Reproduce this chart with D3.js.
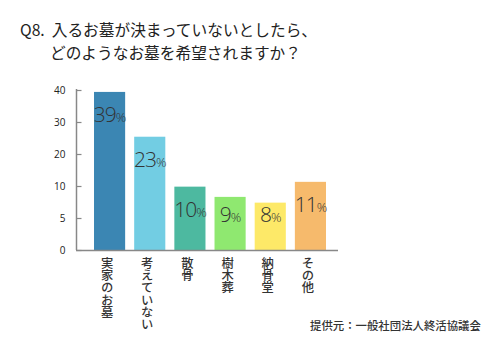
<!DOCTYPE html>
<html><head><meta charset="utf-8">
<script src="https://cdn.jsdelivr.net/npm/d3@7"></script>
<style>
body{margin:0;background:#fff;}
svg{display:block;}
</style></head>
<body>
<svg id="c" width="500" height="343"></svg>
<script>
const categories = ["実家のお墓","考えていない","散骨","樹木葬","納骨堂","その他"];
const barValues = [39.4, 25.4, 9.9, 8.3, 7.4, 11.3];
const labelValues = ["39","23","10","9","8","11"];
const colors = ["#3b86b3","#72cde3","#4db9a0","#8fe870","#fde968","#f6ba6c"];
const tickValues = [0,5,10,20,30,40];
const titleLines = ["Q8.\u00a0\u00a0入るお墓が決まっていないとしたら、","どのようなお墓を希望されますか？"];
const source = "提供元：一般社団法人終活協議会";

const svg = d3.select("#c");
const jp = "'Noto Sans CJK JP','Noto Sans',sans-serif";

const y = d3.scaleLinear().domain(tickValues).range([250,218,186,154,122,90]);
const x = d3.scaleBand().domain(categories).range([90,330]).paddingInner(0.225).paddingOuter(0.1);

// title
svg.append("text").attr("x",20).attr("y",36).attr("font-family",jp).attr("font-size",15.7).attr("fill","#222").text(titleLines[0]);
svg.append("text").attr("x",50).attr("y",59).attr("font-family",jp).attr("font-size",15.7).attr("fill","#222").text(titleLines[1]);

// bars
svg.selectAll("rect.bar").data(categories).enter().append("rect")
  .attr("class","bar")
  .attr("x",d=>x(d)).attr("width",x.bandwidth())
  .attr("y",(d,i)=>y(barValues[i])).attr("height",(d,i)=>y(0)-y(barValues[i]))
  .attr("fill",(d,i)=>colors[i]);

// value labels
const lab = svg.selectAll("text.val").data(categories).enter().append("text")
  .attr("class","val")
  .attr("x",d=>x(d)+x.bandwidth()/2)
  .attr("y",(d,i)=>Math.min(y(barValues[i])+30,222))
  .attr("text-anchor","middle")
  .attr("font-family","'Open Sans',sans-serif").attr("font-weight",300)
  .attr("fill","#333").attr("font-size",21).attr("letter-spacing",-1);
lab.append("tspan").text((d,i)=>labelValues[i]);
lab.append("tspan").attr("font-size",13).text("%");

// y axis
const yAxis = d3.axisLeft(y).tickValues(tickValues).tickSize(-5).tickPadding(11);
const ga = svg.append("g").attr("transform","translate(76.5,0)").call(yAxis);
ga.select(".domain").attr("stroke","#888").attr("stroke-width",1.5).attr("d","M0,89V250");
ga.selectAll(".tick line").attr("stroke","#888").attr("stroke-width",1.2);
ga.selectAll(".tick text").attr("font-family","'Open Sans',sans-serif").attr("font-size",10).attr("fill","#222");

// x axis line
svg.append("line").attr("x1",76).attr("x2",338).attr("y1",250.5).attr("y2",250.5).attr("stroke","#888").attr("stroke-width",1.5);

// category labels (vertical)
svg.selectAll("text.cat").data(categories).enter().append("text")
  .attr("class","cat")
  .attr("x",d=>x(d)+x.bandwidth()/2-2.5)
  .attr("y",257)
  .attr("font-family",jp).attr("font-size",12.3).attr("font-weight",500).attr("fill","#333")
  .style("writing-mode","vertical-rl")
  .text(d=>d);

// source
svg.append("text").attr("x",310).attr("y",330).attr("font-family",jp).attr("font-size",11.4).attr("font-weight",500).attr("fill","#333").text(source);
</script>
</body></html>
